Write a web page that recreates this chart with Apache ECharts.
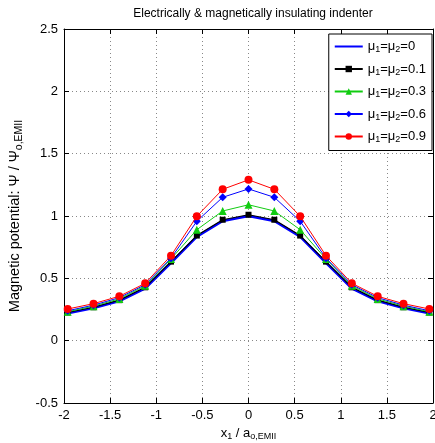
<!DOCTYPE html>
<html><head><meta charset="utf-8">
<script src="https://cdn.jsdelivr.net/npm/echarts@6/dist/echarts.min.js"></script>
<style>html,body{margin:0;padding:0;background:#fff}#c{width:435px;height:443px}</style>
</head><body><div id="c"></div>
<script>
const xs = [-1.96,-1.68,-1.4,-1.12,-0.84,-0.56,-0.28,0,0.28,0.56,0.84,1.12,1.4,1.68,1.96];
const mu00 = [0.220,0.262,0.318,0.420,0.625,0.835,0.960,1.000,0.960,0.835,0.625,0.420,0.318,0.262,0.220];
const mu01 = [0.226,0.268,0.325,0.428,0.634,0.843,0.970,1.010,0.970,0.843,0.634,0.428,0.325,0.268,0.226];
const mu03 = [0.232,0.277,0.335,0.440,0.655,0.890,1.040,1.090,1.040,0.890,0.655,0.440,0.335,0.277,0.232];
const mu06 = [0.240,0.285,0.345,0.449,0.662,0.958,1.150,1.217,1.150,0.958,0.662,0.449,0.345,0.285,0.240];
const mu09 = [0.254,0.297,0.356,0.460,0.682,0.998,1.214,1.290,1.214,0.998,0.682,0.460,0.356,0.297,0.254];
const legendLabels = ['0','0.1','0.3','0.6','0.9'];

const F = 'Liberation Sans, Arial, Helvetica, sans-serif';
const pair = ys => xs.map((x,i)=>[x, ys[i]]);
const names = legendLabels.map(v => 'mu=' + v);
const nameMap = {}; names.forEach((n,i)=>nameMap[n]=legendLabels[i]);

const chart = echarts.init(document.getElementById('c'), null, {renderer:'canvas'});
const axisCommon = {
  axisLine:{show:true, onZero:false, lineStyle:{color:'#000', width:1}},
  axisTick:{show:true, inside:true, length:5, lineStyle:{color:'#000'}},
};
function mk(name, ys, color, symbol, size, width, z){
  return {name, type:'line', data:pair(ys), symbol, symbolSize:size, showSymbol: symbol!=='none',
    lineStyle:{color, width}, itemStyle:{color}, z, animation:false};
}
const rich = {t:{fontFamily:F, fontSize:13, color:'#000'}, s:{fontFamily:F, fontSize:9, color:'#000', padding:[7,0,0,0]}};
const richY = {t:{fontFamily:F, fontSize:14.5, color:'#000'}, s:{fontFamily:F, fontSize:10.5, color:'#000', padding:[8,0,0,0]}};
chart.setOption({
  animation:false,
  title:{text:'Electrically & magnetically insulating indenter', left:248, top:3, textAlign:'center',
    textStyle:{fontFamily:F, fontSize:12, fontWeight:'normal', color:'#000'}},
  grid:{left:64, right:2, top:29, bottom:40, containLabel:false, outerBoundsMode:'none'},
  legend:{orient:'vertical', right:3, top:34, itemWidth:28, itemHeight:8, itemGap:8,
    backgroundColor:'#fff', borderColor:'#000', borderWidth:1, padding:[6,6,6,5],
    data:[{name:names[0], icon:'path://M0,0L28,0L28,2L0,2Z'}].concat(names.slice(1)),
    formatter: n => '{t|μ}{s|1}{t|=μ}{s|2}{t|=' + nameMap[n] + '}',
    textStyle:{fontFamily:F, fontSize:13, color:'#000', rich}},
  xAxis:[
    Object.assign({type:'value', min:-2, max:2, interval:0.5, position:'bottom',
      axisLabel:{fontFamily:F, fontSize:13, color:'#000', margin:6},
      splitLine:{show:true, lineStyle:{color:'#888', type:[1,3], width:1}},
      name:'{t|x}{s|1}{t| / a}{s|o,EMII}', nameLocation:'middle', nameGap:16,
      nameTextStyle:{fontFamily:F, fontSize:13, color:'#000', rich}
    }, axisCommon),
    Object.assign({type:'value', min:-2, max:2, interval:0.5, position:'top',
      axisLabel:{show:false}, splitLine:{show:false}}, axisCommon)
  ],
  yAxis:[
    Object.assign({type:'value', min:-0.5, max:2.5, interval:0.5, position:'left',
      axisLabel:{fontFamily:F, fontSize:13, color:'#000', margin:6},
      splitLine:{show:true, lineStyle:{color:'#888', type:[1,3], width:1}},
      name:'{t|Magnetic potential: Ψ / Ψ}{s|o,EMII}', nameLocation:'middle', nameGap:30, nameRotate:90,
      nameTextStyle:{fontFamily:F, fontSize:14.5, color:'#000', rich:richY}
    }, axisCommon),
    Object.assign({type:'value', min:-0.5, max:2.5, interval:0.5, position:'right',
      axisLabel:{show:false}, splitLine:{show:false}}, axisCommon)
  ],
  series:[
    mk(names[0], mu00, '#0000ff', 'none', 0, 2.5, 2),
    mk(names[1], mu01, '#000000', 'rect', 6, 1.2, 3),
    mk(names[2], mu03, '#11cc11', 'triangle', 8, 1, 4),
    mk(names[3], mu06, '#0000ff', 'diamond', 8, 1, 5),
    mk(names[4], mu09, '#ff0000', 'circle', 8, 1, 6)
  ]
});
</script></body></html>
